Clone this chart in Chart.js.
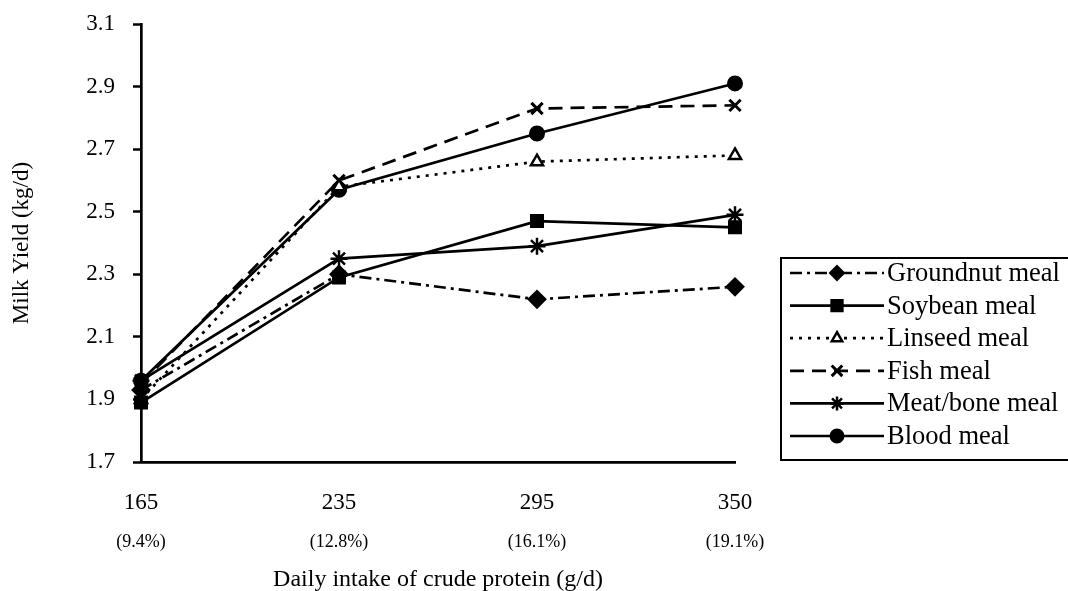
<!DOCTYPE html>
<html>
<head>
<meta charset="utf-8">
<script src="https://cdn.jsdelivr.net/npm/chart.js@4.4.1/dist/chart.umd.min.js"></script>
<style>
html,body{margin:0;padding:0;background:#fff;}
#wrap{width:1068px;height:591px;position:relative;}
</style>
</head>
<body>
<div id="wrap"><canvas id="c" width="1068" height="591"></canvas></div>
<script>
const intakeLabels = ['165', '235', '295', '350'];
const percentLabels = ['(9.4%)', '(12.8%)', '(16.1%)', '(19.1%)'];
const groundnut = [1.93, 2.30, 2.22, 2.26];
const soybean = [1.89, 2.29, 2.47, 2.45];
const linseed = [1.90, 2.58, 2.66, 2.68];
const fish = [1.95, 2.60, 2.83, 2.84];
const meatBone = [1.96, 2.35, 2.39, 2.49];
const blood = [1.96, 2.57, 2.75, 2.91];
const yTicks = [1.7, 1.9, 2.1, 2.3, 2.5, 2.7, 2.9, 3.1];

const FONT = '"Liberation Serif", "Times New Roman", serif';
const K = '#000';

function ds(label, data, opts) {
  return Object.assign({
    label, data,
    borderColor: K, backgroundColor: K,
    pointBorderColor: K, pointBackgroundColor: K,
    borderWidth: 2.7, pointBorderWidth: 2, tension: 0, clip: false,
    pointRadius: 7, pointHoverRadius: 7, fill: false
  }, opts);
}

const datasets = [
  ds('Groundnut meal', groundnut, {borderDash: [12, 5, 3, 5], pointStyle: 'rectRot', pointRadius: 8.5, legendRadius: 7}),
  ds('Soybean meal', soybean, {pointStyle: 'rect', pointRadius: 8.5, legendRadius: 8}),
  ds('Linseed meal', linseed, {borderDash: [3, 6], pointStyle: 'triangle', pointBackgroundColor: '#fff', pointBorderWidth: 2.5, pointRadius: 7, legendRadius: 6}),
  ds('Fish meal', fish, {borderDash: [14, 8], pointStyle: 'crossRot', pointRadius: 8, pointBorderWidth: 3, legendRadius: 7.5}),
  ds('Meat/bone meal', meatBone, {pointStyle: 'star', pointRadius: 8.5, pointBorderWidth: 2.5, legendRadius: 7}),
  ds('Blood meal', blood, {pointStyle: 'circle', pointRadius: 7, legendRadius: 6.5})
];

const legendPlugin = {
  id: 'boxLegend',
  afterDraw(chart) {
    const ctx = chart.ctx;
    ctx.save();
    ctx.strokeStyle = K; ctx.lineWidth = 2;
    ctx.strokeRect(781, 258, 320, 202);
    const x0 = 790, x1 = 884, xm = 837, tx = 887;
    chart.data.datasets.forEach((d, i) => {
      const y = 273 + 32.6 * i;
      ctx.save();
      ctx.strokeStyle = K; ctx.lineWidth = 2.7;
      ctx.setLineDash(d.borderDash || []);
      ctx.beginPath(); ctx.moveTo(x0, y); ctx.lineTo(x1, y); ctx.stroke();
      ctx.setLineDash([]);
      ctx.fillStyle = d.pointBackgroundColor; ctx.strokeStyle = K;
      ctx.lineWidth = d.pointBorderWidth;
      Chart.helpers.drawPoint(ctx, {pointStyle: d.pointStyle, radius: d.legendRadius, rotation: 0, borderWidth: d.pointBorderWidth}, xm, y);
      ctx.restore();
      ctx.fillStyle = K; ctx.font = '26.5px ' + FONT;
      ctx.textBaseline = 'middle'; ctx.textAlign = 'left';
      ctx.fillText(d.label, tx, y + 1);
    });
    ctx.restore();
  }
};

new Chart(document.getElementById('c'), {
  type: 'line',
  data: {labels: intakeLabels, datasets},
  plugins: [legendPlugin],
  options: {
    responsive: false, animation: false, devicePixelRatio: 1,
    layout: {padding: {left: 0, right: 333, top: 24, bottom: 0}},
    plugins: {legend: {display: false}, tooltip: {enabled: false}},
    scales: {
      y: {
        min: 1.7, max: 3.1,
        afterBuildTicks(s) { s.ticks = yTicks.map(v => ({value: v})); },
        afterFit(s) { s.width = 141; s.paddingTop = 0; s.paddingBottom = 0; },
        grid: {drawOnChartArea: false, color: K, tickLength: 8, tickWidth: 2.5, tickColor: K},
        border: {display: true, color: K, width: 2.7},
        ticks: {color: K, padding: 18, font: {family: FONT, size: 23}, callback: v => Number(v).toFixed(1)},
        title: {display: true, text: 'Milk Yield (kg/d)', color: K, font: {family: FONT, size: 23}, padding: {top: 8, bottom: 0}}
      },
      x: {
        type: 'category', offset: false, weight: 0,
        afterFit(s) { s.height = 58; s.paddingLeft = 0; s.paddingRight = 0; },
        grid: {drawOnChartArea: false, drawTicks: false, color: K},
        border: {display: true, color: K, width: 2.7},
        ticks: {color: K, padding: 27, maxRotation: 0, autoSkip: false, font: {family: FONT, size: 23}}
      },
      x2: {
        type: 'category', labels: percentLabels, position: 'bottom', offset: false, weight: 1,
        afterFit(s) { s.height = 71; s.paddingLeft = 0; s.paddingRight = 0; },
        grid: {display: false, drawTicks: false},
        border: {display: false},
        ticks: {color: K, padding: 11, maxRotation: 0, autoSkip: false, font: {family: FONT, size: 18}},
        title: {display: true, text: 'Daily intake of crude protein (g/d)', color: K, font: {family: FONT, size: 24}, padding: {top: 0, bottom: -3}}
      }
    }
  }
});
</script>
</body>
</html>
